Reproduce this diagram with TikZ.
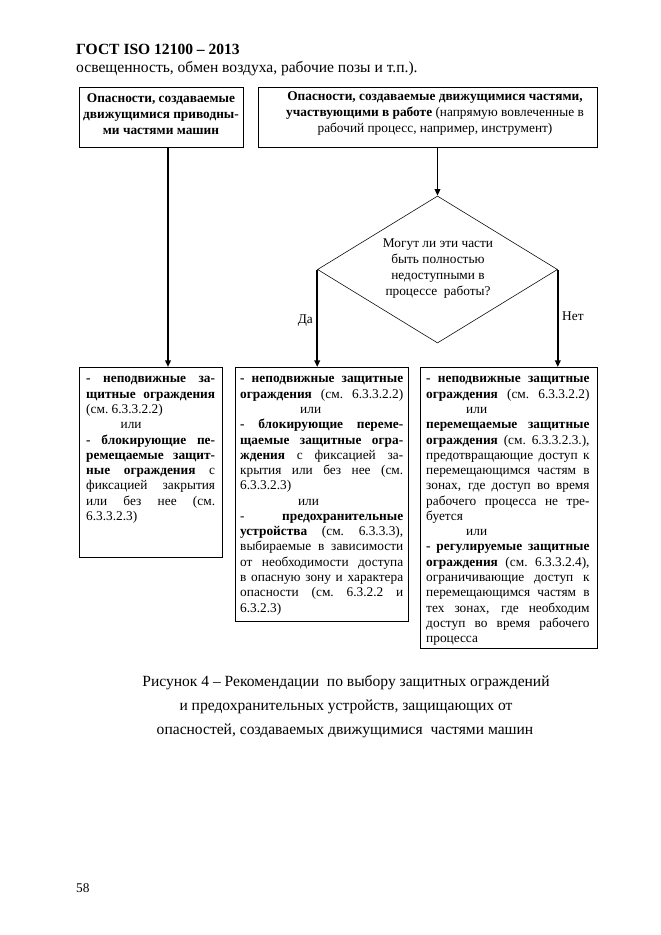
\documentclass[tikz,border=0pt]{standalone}
\usepackage{fontspec}
\setmainfont{Liberation Serif}
\usetikzlibrary{arrows.meta,shapes.geometric}
\newdimen\bxw
\newcommand{\jline}[1]{\noindent\hbox to\bxw{\strut#1}\par}
\newcommand{\lline}[1]{\noindent\hbox to\bxw{\strut#1\hfil}\par}
\newcommand{\ili}[1]{\noindent\hbox to\bxw{\strut\hskip#1 или\hfil}\par}
\newcommand{\boxsetup}[1]{\bxw=#1\relax\spaceskip=3pt plus 20pt minus 0.5pt\relax\xspaceskip=3pt plus 20pt minus 0.5pt\relax}
\begin{document}
\begin{tikzpicture}[x=0.9pt,y=-0.9pt,
  box/.style={draw,line width=0.8pt,anchor=north west,inner sep=0pt},
  boxtext/.style={anchor=north west,inner sep=0pt,font=\fontsize{12}{13.75}\selectfont},
  headtext/.style={align=center,inner sep=0pt,font=\fontsize{12}{14.4}\selectfont},
  conn/.style={line width=1.7pt,-{Triangle[length=6pt,width=5pt]}},
  plain/.style={inner sep=0pt,font=\fontsize{12}{14.4}\selectfont}]
\useasboundingbox[fill=white] (0,0) rectangle (661,935);
% header
\node[anchor=west,inner sep=0pt,font=\fontsize{14}{16}\selectfont\bfseries] (hdr) at (76,49) {ГОСТ ISO 12100 – 2013};
\node[anchor=west,inner sep=0pt,font=\fontsize{14}{16}\selectfont] (hdr2) at (76,69) {освещенность, обмен воздуха, рабочие позы и т.п.).};
% top boxes
\node[box,minimum width=147.6pt,minimum height=54pt] (A) at (79,87) {};
\node[headtext] (At) at (161,114) {\textbf{Опасности, создаваемые}\\\textbf{движущимися приводны-}\\\textbf{ми частями машин}};
\node[box,minimum width=305.1pt,minimum height=54pt] (B) at (258,87) {};
\node[headtext] (Bt) at (435,114) {\textbf{Опасности, создаваемые движущимися частями,}\\\textbf{участвующими в работе} (напрямую вовлеченные в\\рабочий процесс, например, инструмент)};
% decision
\node[draw,diamond,line width=0.5pt,minimum width=216pt,minimum height=132.3pt,inner sep=0pt] (Q) at (437.5,269.5) {};
\node[headtext] (Qt) at (438,269) {Могут ли эти части\\быть полностью\\недоступными в\\процессе\ \ работы?};
% bottom boxes
\node[box,minimum width=128.7pt,minimum height=171pt] (C) at (79,367) {};
\node[box,minimum width=155.7pt,minimum height=228.6pt] (D) at (235,367) {};
\node[box,minimum width=159.3pt,minimum height=252.5pt] (E) at (420,367) {};
\node[boxtext,text width=116pt] (Ct) at (86,372) {\boxsetup{116pt}%
\jline{\textbf{- неподвижные за-}}%
\jline{\textbf{щитные ограждения}}%
\lline{(см. 6.3.3.2.2)}%
\ili{31pt}%
\jline{\textbf{- блокирующие пе-}}%
\jline{\textbf{ремещаемые защит-}}%
\jline{\textbf{ные ограждения} с}%
\jline{фиксацией закрытия}%
\jline{или без нее (см.}%
\lline{6.3.3.2.3)}};
\node[boxtext,text width=146.7pt] (Dt) at (240,372) {\boxsetup{146.7pt}%
\jline{\textbf{- неподвижные защитные}}%
\jline{\textbf{ограждения} (см. 6.3.3.2.2)}%
\ili{54pt}%
\jline{\textbf{- блокирующие переме-}}%
\jline{\textbf{щаемые защитные огра-}}%
\jline{\textbf{ждения} с фиксацией за-}%
\jline{крытия или без нее (см.}%
\lline{6.3.3.2.3)}%
\ili{52pt}%
\jline{- \textbf{предохранительные}}%
\jline{\textbf{устройства} (см. 6.3.3.3),}%
\jline{выбираемые в зависимости}%
\jline{от необходимости доступа}%
\jline{в опасную зону и характера}%
\jline{опасности (см. 6.3.2.2 и}%
\lline{6.3.2.3)}};
\node[boxtext,text width=147pt] (Et) at (426,372) {\boxsetup{147pt}%
\jline{\textbf{- неподвижные защитные}}%
\jline{\textbf{ограждения} (см. 6.3.3.2.2)}%
\ili{36pt}%
\jline{\textbf{перемещаемые защитные}}%
\jline{\textbf{ограждения} (см. 6.3.3.2.3.),}%
\jline{предотвращающие доступ к}%
\jline{перемещающимся частям в}%
\jline{зонах, где доступ во время}%
\jline{рабочего процесса не тре-}%
\lline{буется}%
\ili{36pt}%
\jline{\textbf{- регулируемые защитные}}%
\jline{\textbf{ограждения} (см. 6.3.3.2.4),}%
\jline{ограничивающие доступ к}%
\jline{перемещающимся частям в}%
\jline{тех зонах, где необходим}%
\jline{доступ во время рабочего}%
\lline{процесса}};
% connectors
\coordinate (ax) at (168,0);
\draw[conn] (ax |- A.south) -- (ax |- C.north);
\draw[conn] (Q.north |- B.south) -- (Q.north);
\draw[conn] (Q.west) -- (Q.west |- D.north);
\draw[conn] (Q.east) -- (Q.east |- E.north);
\node[plain,anchor=east] (yes) at (313,321) {Да};
\node[plain,anchor=west] (no) at (562,316) {Нет};
% caption
\node[plain,font=\fontsize{14}{16}\selectfont] (cap1) at (346,683) {Рисунок 4 – Рекомендации\ \ по выбору защитных ограждений};
\node[plain,font=\fontsize{14}{16}\selectfont] (cap2) at (346,707) {и предохранительных устройств, защищающих от};
\node[plain,font=\fontsize{14}{16}\selectfont] (cap3) at (345,731) {опасностей, создаваемых движущимися\ \ частями машин};
\node[plain,anchor=west] (pg) at (76,888) {58};
\end{tikzpicture}
\end{document}
